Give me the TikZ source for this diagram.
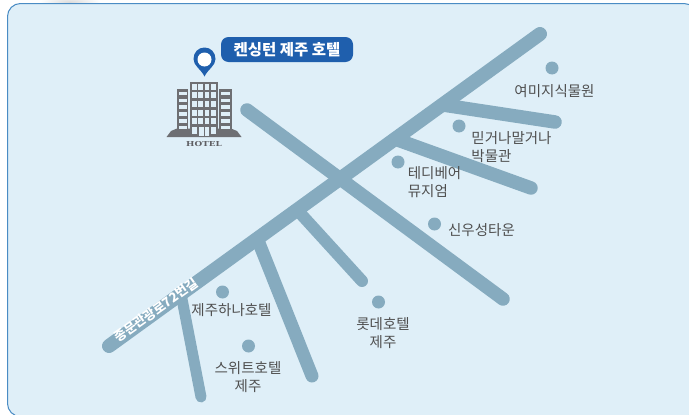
\documentclass[tikz,border=0pt]{standalone}
\usepackage{fontspec}
\setmainfont{Noto Sans CJK KR}
\newfontfamily\hotelfont{DejaVu Serif}
\definecolor{mapbg}{HTML}{DFEFF8}
\definecolor{mapedge}{HTML}{4A8CC4}
\definecolor{road}{HTML}{86ABBF}
\definecolor{pinblue}{HTML}{1F5FAD}
\definecolor{bldg}{HTML}{6E6F73}
\definecolor{txt}{HTML}{4F4F4F}
\tikzset{
  x=1pt,y=-1pt,
  roadline/.style={line width=13.5pt,draw=road,line cap=round},
  thinroad/.style={line width=11pt,draw=road,line cap=round},
  dotmark/.style={circle,fill=road,minimum size=13pt,inner sep=0pt,draw=none},
  place/.style={font=\fontsize{14.5}{18}\selectfont,text=txt,align=center,inner sep=0pt},
}
\begin{document}
\begin{tikzpicture}
\useasboundingbox (0,0) rectangle (689,415);
\fill[white] (0,0) rectangle (689,415);
\begin{scope}
\clip (0,0) rectangle (689,415);
\shade[inner color=black!14,outer color=white] (70,2) ellipse [x radius=30,y radius=7];
\fill[mapbg,rounded corners=13pt] (7.5,3.5) rectangle (697,416.5);
\draw[mapedge,line width=1pt,rounded corners=13pt] (7.5,3.5) rectangle (697,416.5);
\end{scope}
% road coordinates
\coordinate (r1a) at (109,346);
\coordinate (r1b) at (540,34);
\coordinate (r2a) at (247,110);
\coordinate (r2b) at (503,299);
\coordinate (r3a) at (443,105);
\coordinate (r3b) at (555,122);
\coordinate (r4a) at (395,139);
\coordinate (r4b) at (531,188);
\coordinate (r5a) at (300,213);
\coordinate (r5b) at (362,281);
\coordinate (r6a) at (259,243);
\coordinate (r6b) at (312,376);
\coordinate (r7a) at (182,299);
\coordinate (r7b) at (201,397);
\draw[thinroad] (r7a) -- (r7b);
\draw[thinroad,line width=13pt] (r6a) -- (r6b);
\draw[thinroad,line width=12pt] (r5a) -- (r5b);
\draw[roadline] (r3a) -- (r3b);
\draw[roadline] (r4a) -- (r4b);
\draw[roadline] (r2a) -- (r2b);
\draw[roadline,line width=14pt] (r1a) -- (r1b);
% road label
\node[rotate=35.500,text=white,inner sep=0pt,font=\fontsize{13}{14}\bfseries\selectfont] (roadname) at (156,310) {종문관광로72번길};
% dots
\node[dotmark] (d1) at (552,68) {};
\node[dotmark] (d2) at (459,126) {};
\node[dotmark] (d3) at (398,162) {};
\node[dotmark] (d4) at (434.500,224) {};
\node[dotmark] (d5) at (222.500,292) {};
\node[dotmark] (d6) at (378.500,302) {};
\node[dotmark] (d7) at (248.500,346) {};
% labels
\node[place] (l1) at (554.500,91) {여미지식물원};
\node[place,align=left] (l2) at (511.500,147) {믿거나말거나\\박물관};
\node[place,align=left] (l3) at (434.500,182) {테디베어\\뮤지엄};
\node[place] (l4) at (481.500,230) {신우성타운};
\node[place] (l5) at (231.500,310) {제주하나호텔};
\node[place] (l6) at (383,333) {롯데호텔\\제주};
\node[place] (l7) at (248,377) {스위트호텔\\제주};
% title
\node[fill=pinblue,text=white,rounded corners=7.5pt,minimum width=132pt,minimum height=25pt,inner sep=0pt,font=\fontsize{15.5}{18}\bfseries\selectfont] (title) at (287,49.500) {켄싱턴 제주 호텔};
% pin
\fill[pinblue] (204.500,76.500) .. controls (201,69) and (193.500,66) .. (193.500,59) .. controls (193.500,52) and (198.500,47.500) .. (204.500,47.500) .. controls (210.500,47.500) and (215.500,52) .. (215.500,59) .. controls (215.500,66) and (208,69) .. cycle;
\fill[white] (204.500,59.500) circle (7);
% hotel building
\fill[bldg] (166.500,137) -- (171,131) -- (177,128.500) -- (231,128.500) -- (237,131) -- (241.500,137) -- cycle;
\fill[bldg] (177,89) rectangle (188,131);
\fill[bldg] (219,89) rectangle (231.500,131);
\fill[bldg] (190,82) rectangle (218,131);
\foreach \y in {91.500,98.500,105,112,119,125.500}{
  \fill[mapbg] (179,\y) rectangle (186.500,\y+3.800);
  \fill[mapbg] (220.500,\y) rectangle (229.500,\y+3.800);
}
\foreach \x in {192,198,204.500,211}{
  \foreach \y in {83.500,92,101,109.500,118}{
    \fill[mapbg] (\x,\y) rectangle (\x+4.500,\y+6);
  }
}
\fill[mapbg] (192,127) rectangle (196.500,134);
\fill[mapbg] (211,127) rectangle (215.500,134);
\fill[mapbg] (198.500,127) rectangle (209,136);
\draw[bldg,line width=.6pt] (204,127) -- (204,136);
\node[text=bldg!85!black,inner sep=0pt,font=\hotelfont\fontsize{6.8}{8}\bfseries\selectfont] (hotel) at (204,144) {\scalebox{1.3}[1]{HOTEL}};
\end{tikzpicture}
\end{document}
